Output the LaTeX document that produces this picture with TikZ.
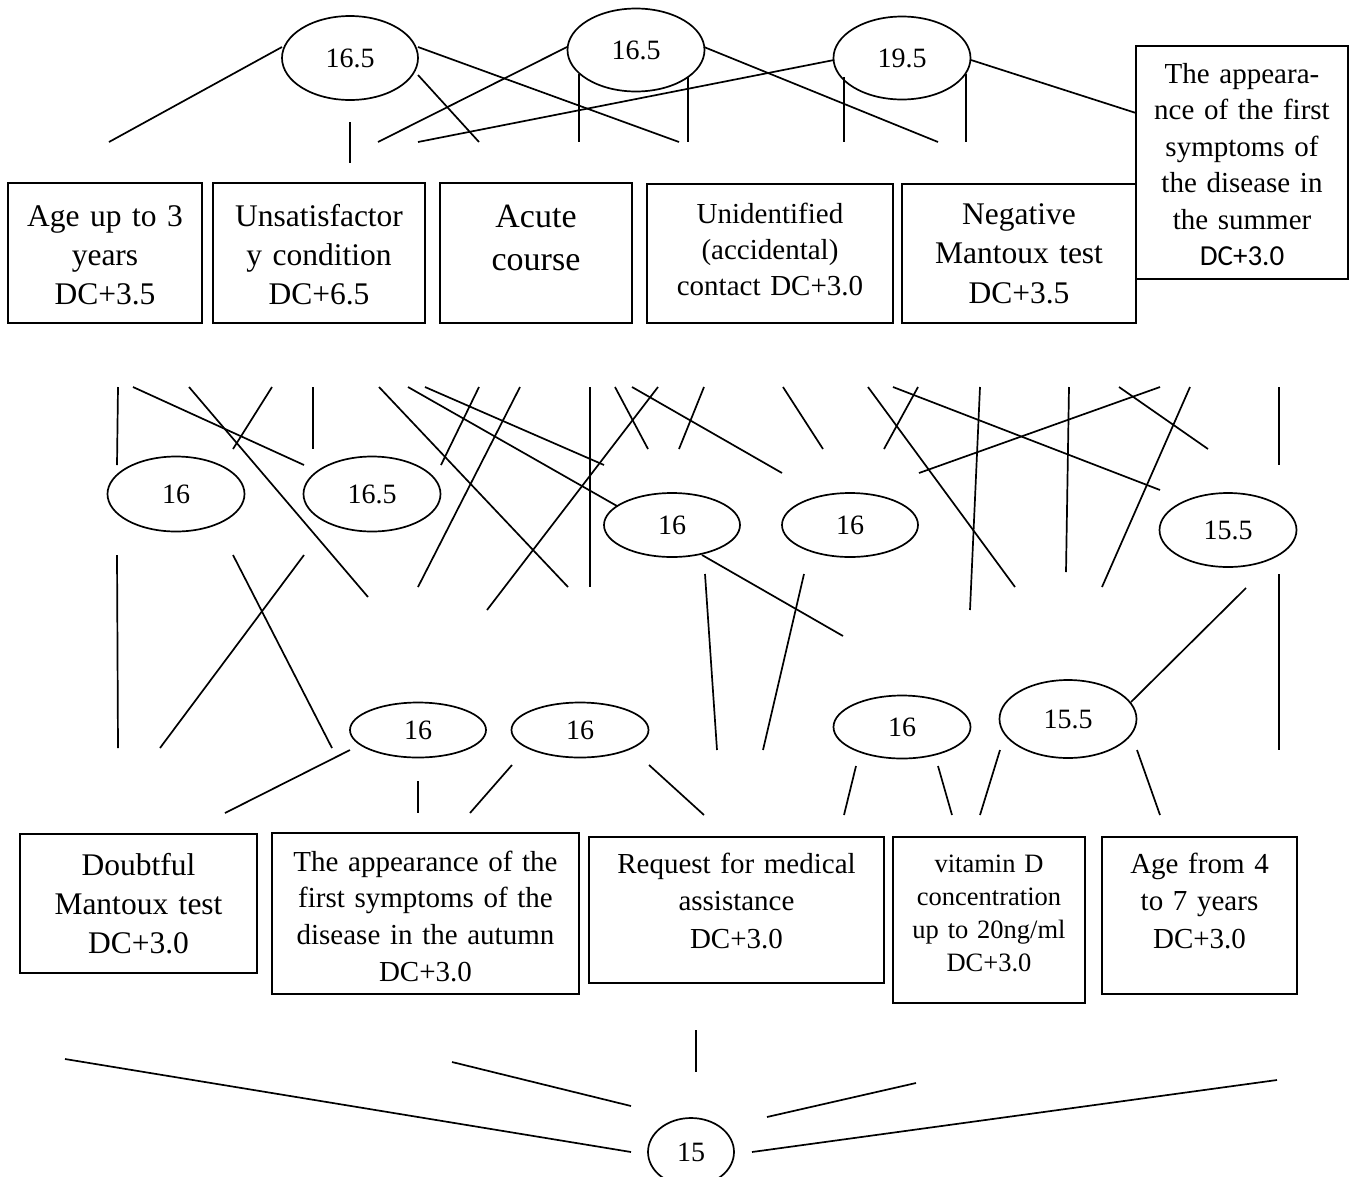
\documentclass[tikz,border=0pt]{standalone}
\usepackage{fontspec}
\setmainfont{Liberation Serif}
\newfontfamily\calibri{Carlito}
\usetikzlibrary{shapes.geometric}

\begin{document}
\begin{tikzpicture}[x=1pt,y=-1pt,
    crit/.style={draw,line width=1.9pt,inner sep=0pt},
    crittext/.style={anchor=base,align=center,inner sep=0pt},
    score/.style={draw,ellipse,line width=1.7pt,inner sep=0pt,font=\fontsize{28}{32}\selectfont},
    tie/.style={line width=1.7pt}]
    \useasboundingbox (0,0) rectangle (1355,1176);

    % upper row of criteria
    \node[crit,minimum width=194,minimum height=140] (b1) at (105,253) {};
    \node[crit,minimum width=212,minimum height=140] (b2) at (319,253) {};
    \node[crit,minimum width=192,minimum height=140] (b3) at (536,253) {};
    \node[crit,minimum width=246,minimum height=139] (b4) at (770,253.5) {};
    \node[crit,minimum width=234,minimum height=139] (b5) at (1019,253.5) {};
    \node[crit,minimum width=212,minimum height=233,fill=white] (b6) at (1242,162.5) {};
    \node[crittext,text width=190,font=\fontsize{31.5}{39}\selectfont] (t1) at (105,226) {Age up to 3\\years\\DC+3.5};
    \node[crittext,text width=208,font=\fontsize{31.5}{39}\selectfont] (t2) at (319,226) {Unsatisfactor\\y condition\\DC+6.5};
    \node[crittext,text width=188,font=\fontsize{34}{43}\selectfont] (t3) at (536,227) {Acute\\course};
    \node[crittext,text width=240,font=\fontsize{29}{36}\selectfont] (t4) at (770,223) {Unidentified\\(accidental)\\contact DC+3.0};
    \node[crittext,text width=230,font=\fontsize{31.5}{39.5}\selectfont] (t5) at (1019,224) {Negative\\Mantoux test\\DC+3.5};
    \node[crittext,text width=208,font=\fontsize{29}{36.5}\selectfont] (t6) at (1242,83) {The appeara-\\nce of the first\\symptoms of\\the disease in\\the summer\\{\calibri DC+3.0}};

    % lower row of criteria
    \node[crit,minimum width=237,minimum height=139] (b7) at (138.5,903.5) {};
    \node[crit,minimum width=307,minimum height=161] (b8) at (425.5,913.5) {};
    \node[crit,minimum width=295,minimum height=146] (b9) at (736.5,910) {};
    \node[crit,minimum width=192,minimum height=166] (b10) at (989,920) {};
    \node[crit,minimum width=195,minimum height=157] (b11) at (1199.5,915.5) {};
    \node[crittext,text width=233,font=\fontsize{31.5}{39}\selectfont] (t7) at (138.5,875) {Doubtful\\Mantoux test\\DC+3.0};
    \node[crittext,text width=303,font=\fontsize{29}{36.7}\selectfont] (t8) at (425.5,871) {The appearance of the\\first symptoms of the\\disease in the autumn\\DC+3.0};
    \node[crittext,text width=291,font=\fontsize{29}{37.5}\selectfont] (t9) at (736.5,873) {Request for medical\\assistance\\DC+3.0};
    \node[crittext,text width=188,font=\fontsize{26.5}{33.3}\selectfont] (t10) at (989,872) {vitamin D\\concentration\\up to 20ng/ml\\DC+3.0};
    \node[crittext,text width=191,font=\fontsize{29}{37.5}\selectfont] (t11) at (1199.5,873) {Age from 4\\to 7 years\\DC+3.0};

    % scores
    \node[score,minimum width=136,minimum height=84] (e1) at (350,58) {16.5};
    \node[score,minimum width=137,minimum height=83] (e2) at (636,50) {16.5};
    \node[score,minimum width=137,minimum height=83] (e3) at (902,58) {19.5};
    \node[score,minimum width=137,minimum height=75] (e4) at (176,494) {16};
    \node[score,minimum width=137,minimum height=75] (e5) at (372,494) {16.5};
    \node[score,minimum width=136,minimum height=64] (e6) at (672,525) {16};
    \node[score,minimum width=136,minimum height=64] (e7) at (850,525) {16};
    \node[score,minimum width=137,minimum height=74] (e8) at (1228,530) {15.5};
    \node[score,minimum width=136,minimum height=55] (e9) at (418,730) {16};
    \node[score,minimum width=137,minimum height=55] (e10) at (580,730) {16};
    \node[score,minimum width=137,minimum height=63] (e11) at (902,727) {16};
    \node[score,minimum width=137,minimum height=78] (e12) at (1068,719) {15.5};
    \node[score,minimum width=86,minimum height=68] (e13) at (691,1152) {15};

    % strokes above the upper row
    \draw[tie] (282,47) -- (109,142);
    \draw[tie] (350,122) -- (350,163);
    \draw[tie] (418,75) -- (479,142);
    \draw[tie] (418,47) -- (679,142);
    \draw[tie] (567,47) -- (378,142);
    \draw[tie] (834,60) -- (418,142);
    \draw[tie] (579,74) -- (579,142);
    \draw[tie] (688,77) -- (688,142);
    \draw[tie] (704,47) -- (938,142);
    \draw[tie] (844,77) -- (844,142);
    \draw[tie] (966,74) -- (966,142);
    \draw[tie] (971,60) -- (1136,113);

    % strokes between the rows
    \draw[tie] (118,387) -- (117,465);
    \draw[tie] (133,387) -- (304,465);
    \draw[tie] (189,387) -- (368,597);
    \draw[tie] (272,387) -- (233,449);
    \draw[tie] (313,387) -- (313,449);
    \draw[tie] (379,387) -- (568,587);
    \draw[tie] (408,387) -- (617,506);
    \draw[tie] (425,387) -- (604,465);
    \draw[tie] (479,387) -- (441,465);
    \draw[tie] (520,387) -- (418,587);
    \draw[tie] (590,387) -- (590,587);
    \draw[tie] (615,387) -- (648,449);
    \draw[tie] (658,387) -- (487,610);
    \draw[tie] (632,387) -- (782,473);
    \draw[tie] (704,387) -- (679,449);
    \draw[tie] (783,387) -- (823,449);
    \draw[tie] (868,387) -- (1015,587);
    \draw[tie] (918,387) -- (884,449);
    \draw[tie] (893,387) -- (1160,490);
    \draw[tie] (980,387) -- (970,610);
    \draw[tie] (1069,387) -- (1066,572);
    \draw[tie] (1160,387) -- (919,473);
    \draw[tie] (1119,387) -- (1208,449);
    \draw[tie] (1190,387) -- (1102,587);
    \draw[tie] (1279,387) -- (1279,465);
    \draw[tie] (117,555) -- (118,748);
    \draw[tie] (304,555) -- (160,748);
    \draw[tie] (233,555) -- (332,748);
    \draw[tie] (702,555) -- (843,636);
    \draw[tie] (705,574) -- (717,750);
    \draw[tie] (804,574) -- (763,750);
    \draw[tie] (1246,588) -- (1131,702);
    \draw[tie] (1279,574) -- (1279,750);

    % strokes above the lower row
    \draw[tie] (350,750) -- (225,813);
    \draw[tie] (418,781) -- (418,813);
    \draw[tie] (512,765) -- (470,813);
    \draw[tie] (649,765) -- (704,815);
    \draw[tie] (856,766) -- (844,815);
    \draw[tie] (938,766) -- (952,815);
    \draw[tie] (1000,750) -- (980,815);
    \draw[tie] (1137,750) -- (1160,815);

    % strokes to the final score
    \draw[tie] (696,1030) -- (696,1072);
    \draw[tie] (65,1059) -- (631,1152);
    \draw[tie] (452,1062) -- (631,1106);
    \draw[tie] (916,1083) -- (767,1117);
    \draw[tie] (1277,1080) -- (752,1152);
\end{tikzpicture}
\end{document}
